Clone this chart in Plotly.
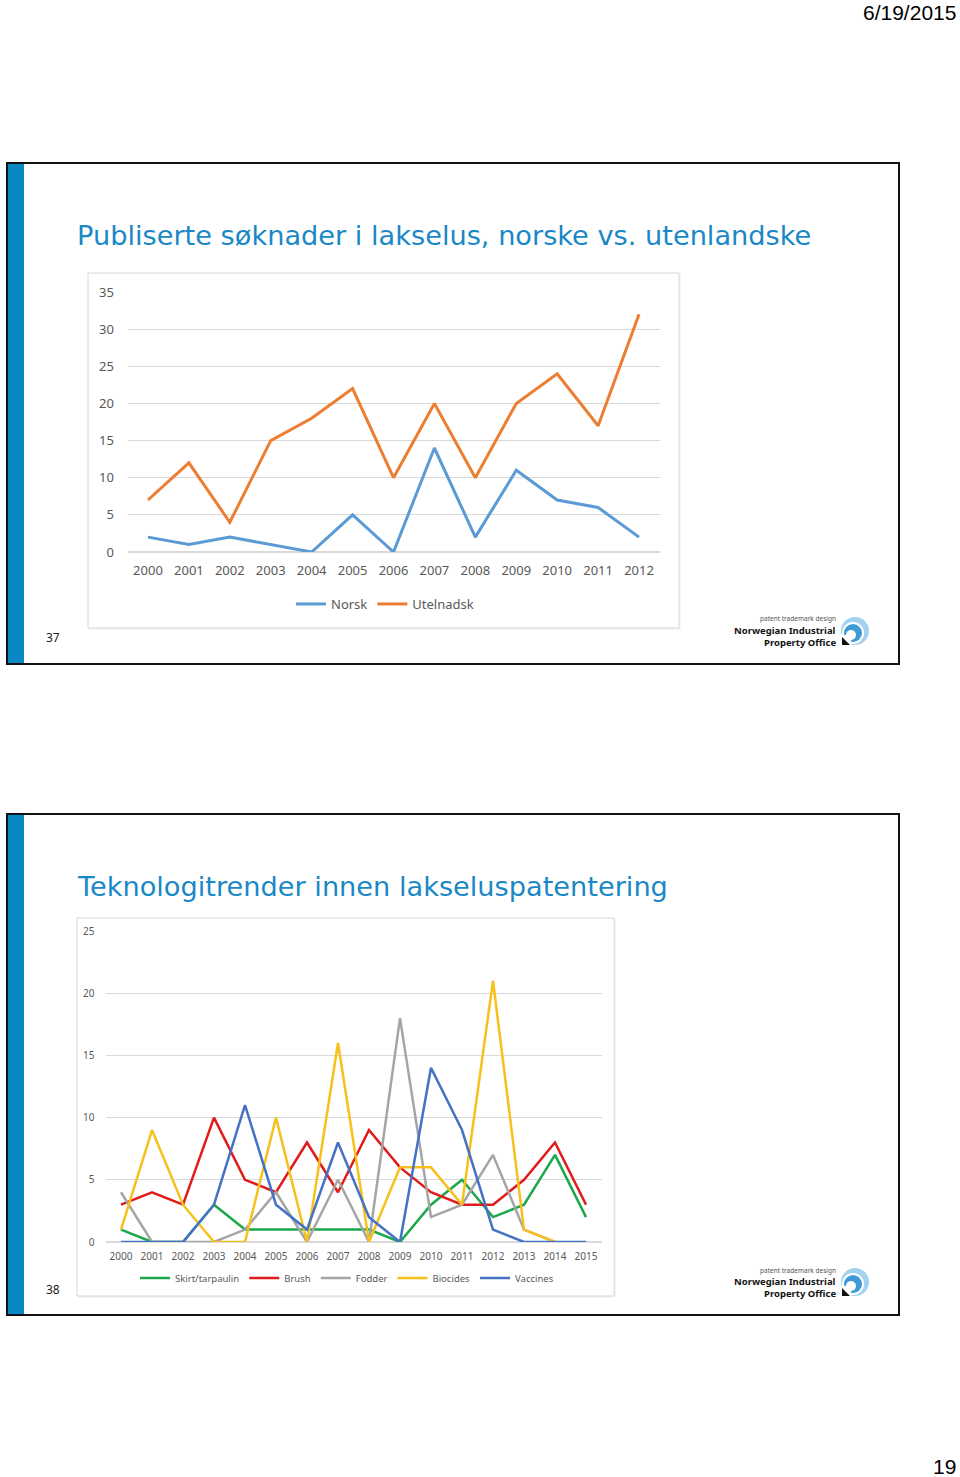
import plotly.graph_objects as go

W, H = 960, 1477

# ---------------- data ----------------
years1 = ['2000', '2001', '2002', '2003', '2004', '2005', '2006',
          '2007', '2008', '2009', '2010', '2011', '2012']
norsk = [2, 1, 2, 1, 0, 5, 0, 14, 2, 11, 7, 6, 2]
utelnadsk = [7, 12, 4, 15, 18, 22, 10, 20, 10, 20, 24, 17, 32]

years2 = ['2000', '2001', '2002', '2003', '2004', '2005', '2006', '2007',
          '2008', '2009', '2010', '2011', '2012', '2013', '2014', '2015']
skirt = [1, 0, 0, 3, 1, 1, 1, 1, 1, 0, 3, 5, 2, 3, 7, 2]
brush = [3, 4, 3, 10, 5, 4, 8, 4, 9, 6, 4, 3, 3, 5, 8, 3]
fodder = [4, 0, 0, 0, 1, 4, 0, 5, 0, 18, 2, 3, 7, 1, 0, None]
biocides = [1, 9, 3, 0, 0, 10, 0, 16, 0, 6, 6, 3, 21, 1, 0, None]
vaccines = [0, 0, 0, 3, 11, 3, 1, 8, 2, 0, 14, 9, 1, 0, 0, 0]

title1 = "Publiserte søknader i lakselus, norske vs. utenlandske"
title2 = "Teknologitrender innen lakseluspatentering"


def px(x):
    return x / W


def py(y):
    return 1 - y / H


FONT = "Noto Sans"
TICKC = "#595959"
GRID = "#d9d9d9"

fig = go.Figure()

fig.add_trace(go.Scatter(x=years1, y=norsk, name="Norsk", mode="lines",
                         line=dict(color="#5b9bd5", width=3),
                         xaxis="x", yaxis="y", legend="legend"))
fig.add_trace(go.Scatter(x=years1, y=utelnadsk, name="Utelnadsk", mode="lines",
                         line=dict(color="#ed7d31", width=3),
                         xaxis="x", yaxis="y", legend="legend"))

series2 = [("Skirt/tarpaulin", skirt, "#1aa84a"),
           ("Brush", brush, "#e01b1b"),
           ("Fodder", fodder, "#a5a5a5"),
           ("Biocides", biocides, "#f7c01a"),
           ("Vaccines", vaccines, "#4472c4")]
for name, vals, col in series2:
    fig.add_trace(go.Scatter(x=years2, y=vals, name=name, mode="lines",
                             line=dict(color=col, width=2.5),
                             xaxis="x2", yaxis="y2", legend="legend2"))

shapes = []


def rect(x0, y0, x1, y1, line_color=None, fill=None, lw=1):
    shapes.append(dict(type="rect", xref="paper", yref="paper",
                       x0=px(x0), x1=px(x1), y0=py(y1), y1=py(y0),
                       line=dict(color=line_color or "rgba(0,0,0,0)", width=lw),
                       fillcolor=fill or "rgba(0,0,0,0)", layer="below"))


def circle(cx, cy, r, fill):
    shapes.append(dict(type="circle", xref="paper", yref="paper",
                       x0=px(cx - r), x1=px(cx + r), y0=py(cy + r), y1=py(cy - r),
                       line=dict(width=0), fillcolor=fill, layer="above"))


def path(d_pts, fill):
    d = "M " + " L ".join(f"{px(x)} {py(y)}" for x, y in d_pts) + " Z"
    shapes.append(dict(type="path", xref="paper", yref="paper", path=d,
                       line=dict(width=0), fillcolor=fill, layer="above"))


annotations = []


def text(x, y, s, size, color="#000", xanchor="left", family=FONT, bold=False):
    if bold:
        s = "<b>" + s + "</b>"
    annotations.append(dict(x=px(x), y=py(y), xref="paper", yref="paper", text=s,
                            showarrow=False, xanchor=xanchor, yanchor="middle",
                            font=dict(size=size, color=color, family=family)))


def logo(ytop):
    text(838, ytop + 4, "patent trademark design", 6.5, "#555", "right")
    text(838, ytop + 15.5, "Norwegian Industrial", 9.5, "#111", "right", bold=True)
    text(838, ytop + 27, "Property Office", 9.5, "#111", "right", bold=True)
    cx, cy = 855, ytop + 16
    circle(cx, cy, 14, "#a3d2f0")
    circle(cx - 2, cy + 2, 11, "white")
    circle(cx - 2, cy + 2, 9, "#3f9bd8")
    circle(cx - 4, cy + 4, 5, "white")
    path([(840, cy + 4), (851, cy + 4), (851, cy + 15), (840, cy + 15)], "white")
    path([(842, cy + 14), (842, cy + 6), (850, cy + 14)], "#111")


# slide frames
for (top, bot, num, ttl, box) in [(163, 664, "37", title1, (88, 273, 679, 628)),
                                  (814, 1315, "38", title2, (77, 918, 614, 1296))]:
    rect(8, top + 1, 24, bot - 1, fill="#0a88c6")
    rect(7, top, 899, bot, line_color="#111", lw=2)
    rect(box[0] + 1, box[1] + 1, box[2] + 1, box[3] + 1, line_color="#ececec", lw=1)
    rect(box[0], box[1], box[2], box[3], line_color="#d6d6d6", fill="white", lw=1)
    text(75, top + 72, ttl, 27.2, "#1a88c6", family="DejaVu Sans")
    text(44, bot - 26, num, 12, "#222")
    logo(bot - 49)

text(958, 12, "6/19/2015", 21, "#000", "right", family="Liberation Sans")
text(958, 1466, "19", 21, "#000", "right", family="Liberation Sans")

axis_common = dict(showline=False, ticks="outside", tickcolor="rgba(0,0,0,0)")

fig.update_layout(
    width=W, height=H,
    margin=dict(l=0, r=0, t=0, b=0, autoexpand=False),
    paper_bgcolor="white", plot_bgcolor="rgba(0,0,0,0)",
    shapes=shapes, annotations=annotations,
    xaxis=dict(domain=[px(127.5), px(659.5)], anchor="y", type="category",
               range=[-0.5, 12.5], showgrid=False, ticklen=6, **axis_common,
               tickfont=dict(family=FONT, color=TICKC, size=13)),
    yaxis=dict(domain=[py(552), py(292)], anchor="x", range=[0, 35], dtick=5,
               showgrid=True, gridcolor=GRID, zeroline=True, zerolinecolor=GRID,
               ticklen=10, **axis_common,
               tickfont=dict(family=FONT, color=TICKC, size=13)),
    xaxis2=dict(domain=[px(105.5), px(601.5)], anchor="y2", type="category",
                range=[-0.5, 15.5], showgrid=False, ticklen=5, **axis_common,
                tickfont=dict(family=FONT, color=TICKC, size=10)),
    yaxis2=dict(domain=[py(1242), py(931)], anchor="x2", range=[0, 25], dtick=5,
                showgrid=True, gridcolor=GRID, zeroline=True, zerolinecolor=GRID,
                ticklen=8, **axis_common,
                tickfont=dict(family=FONT, color=TICKC, size=10)),
    legend=dict(orientation="h", x=px(385), y=py(604), xanchor="center",
                yanchor="middle", font=dict(family=FONT, size=13, color=TICKC),
                bgcolor="rgba(0,0,0,0)"),
    legend2=dict(orientation="h", x=px(347), y=py(1278), xanchor="center",
                 yanchor="middle", font=dict(family=FONT, size=9.5, color=TICKC),
                 bgcolor="rgba(0,0,0,0)"),
    showlegend=True,
)

fig.write_html("out.html", config={"displayModeBar": False},
               post_script="document.body.style.margin='0px';document.body.style.overflow='hidden';")
